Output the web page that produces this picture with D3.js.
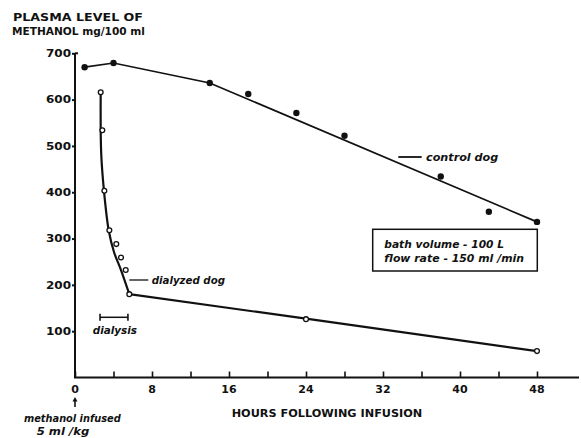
<!DOCTYPE html>
<html><head><meta charset="utf-8">
<script src="https://cdn.jsdelivr.net/npm/d3@7"></script>
<style>
html,body{margin:0;padding:0;background:#fff;}
text{font-family:"DejaVu Sans",sans-serif;fill:#111;}
</style></head><body>
<svg id="c" width="581" height="438"></svg>
<script>
// ---- data ----
const yTicks = [0,100,200,300,400,500,600,700];
const yTickLabels = ["","100","200","300","400","500","600","700"];
const xTicks = [0,4,8,12,16,20,24,28,32,36,40,44,48];
const xTickLabels = ["0","","8","","16","","24","","32","","40","","48"];

const controlHours  = [1, 4, 14, 18, 23, 28, 38, 43, 48];
const controlValues = [670, 679, 636, 612, 571, 522, 434, 358, 336];
const controlLineHours  = [1, 4, 14, 48];
const controlLineValues = [670, 679, 636, 336];

const dialyzedHours  = [2.67, 2.84, 3.05, 3.57, 4.29, 4.78, 5.27, 5.64, 24, 48];
const dialyzedValues = [616, 534, 403, 318, 288, 259, 232, 180, 126, 57];
// curved (dialysis) part of the fitted line, then straight part
const dialyzedCurveHours  = [2.67, 2.72, 3.01, 3.5, 4.05, 4.78, 5.64];
const dialyzedCurveValues = [617, 485, 403, 318, 271, 232, 180];
const dialyzedTailHours  = [5.64, 24, 48];
const dialyzedTailValues = [180, 127, 57];

const dialysisStart = 2.6, dialysisEnd = 5.5, dialysisLevel = 130;

// ---- scales ----
const svg = d3.select("#c");
const x = d3.scaleLinear().domain([0, 48]).range([75, 537]);
const y = d3.scaleLinear().domain([0, 700]).range([377.5, 53.3]);

const ink = "#111";

// axes
const gx = svg.append("g").attr("transform", `translate(0,${y(0)})`);
gx.call(d3.axisTop(x).tickValues(xTicks).tickSize(6).tickFormat(""));
gx.select(".domain").remove();
gx.selectAll("line").attr("stroke", ink).attr("stroke-width", 1.6);
gx.append("line").attr("x1", x(0) - 1).attr("x2", 579).attr("y1", 0).attr("y2", 0)
  .attr("stroke", ink).attr("stroke-width", 2);
gx.selectAll(".lab").data(xTicks).enter().append("text")
  .attr("class","lab")
  .attr("x", d => x(d)).attr("y", 12).attr("dy","0.35em")
  .attr("text-anchor","middle").style("font-size","11px").style("font-weight","bold")
  .text((d,i) => xTickLabels[i]);

const gy = svg.append("g").attr("transform", `translate(${x(0)},0)`);
gy.call(d3.axisLeft(y).tickValues(yTicks.slice(1)).tickSize(3).tickFormat(""));
gy.select(".domain").remove();
gy.selectAll("line").attr("stroke", ink).attr("stroke-width", 2);
gy.append("line").attr("x1",0).attr("x2",0).attr("y1", y(0)).attr("y2", y(700))
  .attr("stroke", ink).attr("stroke-width", 2);
gy.append("line").attr("x1",0).attr("x2",3).attr("y1", y(700)).attr("y2", y(700))
  .attr("stroke", ink).attr("stroke-width", 2);
gy.selectAll(".lab").data(yTicks.slice(1)).enter().append("text")
  .attr("class","lab")
  .attr("x", -4).attr("y", d => y(d)).attr("dy","0.35em")
  .attr("text-anchor","end").style("font-size","11px").style("font-weight","bold")
  .attr("textLength", 25).attr("lengthAdjust","spacingAndGlyphs")
  .text((d,i) => yTickLabels[i+1]);

// titles
function label(tx, ty, str, w, opts={}) {
  const t = svg.append("text").attr("x", tx).attr("y", ty).attr("dy","0.35em")
    .style("font-size", (opts.size||11) + "px").style("font-weight","bold")
    .style("font-style", opts.italic ? "oblique" : "normal")
    .text(str);
  if (w) t.attr("textLength", w).attr("lengthAdjust","spacingAndGlyphs");
  return t;
}
label(13, 17, "PLASMA LEVEL OF", 130, {size: 11});
label(12, 31, "METHANOL mg/100 ml", 133, {size: 11});
label(231.7, 412.7, "HOURS FOLLOWING INFUSION", 190.6, {size: 11});
label(24, 418.3, "methanol infused", 96.7, {italic:true, size: 10.5});
label(36.7, 431.7, "5 ml /kg", 52.6, {italic:true, size: 10.5});

// arrow under 0
svg.append("line").attr("x1", x(0)).attr("x2", x(0)).attr("y1", 400).attr("y2", 407)
  .attr("stroke", ink).attr("stroke-width", 1.6);
svg.append("path").attr("d", `M${x(0)-2.5},401.5 L${x(0)},397 L${x(0)+2.5},401.5 Z`).attr("fill", ink);

// control line and points
const line = d3.line().x(d => x(d[0])).y(d => y(d[1]));
svg.append("path").datum(controlLineHours.map((h,i)=>[h, controlLineValues[i]]))
  .attr("d", line).attr("fill","none").attr("stroke", ink).attr("stroke-width", 1.7);
svg.selectAll(".cp").data(controlHours).enter().append("circle").attr("class","cp")
  .attr("cx", d => x(d)).attr("cy", (d,i) => y(controlValues[i])).attr("r", 3.2).attr("fill", ink);

// dialyzed line and points
const curve = d3.line().x(d => x(d[0])).y(d => y(d[1])).curve(d3.curveCatmullRom.alpha(0.5));
svg.append("path").datum(dialyzedCurveHours.map((h,i)=>[h, dialyzedCurveValues[i]]))
  .attr("d", curve).attr("fill","none").attr("stroke", ink).attr("stroke-width", 2.2)
  .attr("stroke-linejoin","round");
svg.append("path").datum(dialyzedTailHours.map((h,i)=>[h, dialyzedTailValues[i]]))
  .attr("d", line).attr("fill","none").attr("stroke", ink).attr("stroke-width", 2.2)
  .attr("stroke-linejoin","round");
svg.selectAll(".dp").data(dialyzedHours).enter().append("circle").attr("class","dp")
  .attr("cx", d => x(d)).attr("cy", (d,i) => y(dialyzedValues[i])).attr("r", 2.4)
  .attr("fill","#fff").attr("stroke", ink).attr("stroke-width", 1.3);

// dialysis bracket
const by = y(dialysisLevel);
svg.append("line").attr("x1", x(dialysisStart)).attr("x2", x(dialysisEnd)).attr("y1", by).attr("y2", by)
  .attr("stroke", ink).attr("stroke-width", 1.5);
[dialysisStart, dialysisEnd].forEach(h => svg.append("line").attr("x1", x(h)).attr("x2", x(h))
  .attr("y1", by - 3.5).attr("y2", by + 3.5).attr("stroke", ink).attr("stroke-width", 1.6));
label(92.7, 330.7, "dialysis", 44.3, {italic:true, size: 10.5});

// series labels
svg.append("line").attr("x1",129.3).attr("x2",148.3).attr("y1",280).attr("y2",280).attr("stroke",ink).attr("stroke-width",1.3);
label(151.7, 280, "dialyzed dog", 73.3, {italic:true, size: 10.5});
svg.append("line").attr("x1",398.3).attr("x2",421.7).attr("y1",157).attr("y2",157).attr("stroke",ink).attr("stroke-width",1.8);
label(426, 157.5, "control dog", 72.3, {italic:true, size: 10.5});

// info box
svg.append("rect").attr("x",372.7).attr("y",229.3).attr("width",164.6).attr("height",41.7)
  .attr("fill","none").attr("stroke",ink).attr("stroke-width",1.5);
label(384.3, 244.3, "bath volume - 100 L", 119.7, {italic:true, size: 10.5});
label(384.3, 258.3, "flow rate - 150 ml /min", 139.7, {italic:true, size: 10.5});
</script>
</body></html>
